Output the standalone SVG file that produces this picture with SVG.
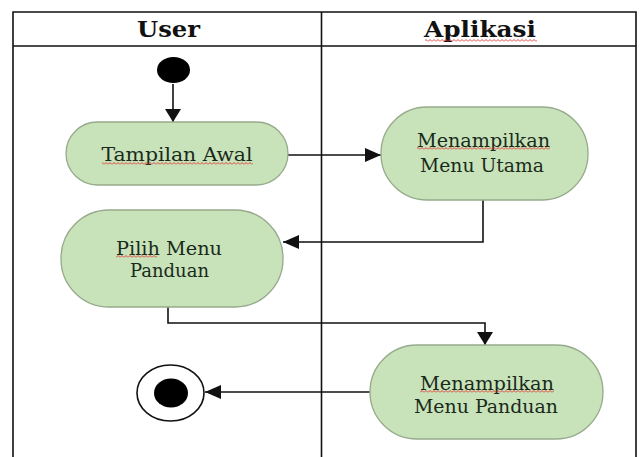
<svg xmlns="http://www.w3.org/2000/svg" width="640" height="457" viewBox="0 0 640 457">
<style>
.lane{stroke:#111;stroke-width:1.6;fill:none}
.node{fill:#c8e2ba;stroke:#96aa8c;stroke-width:1.3}
.hdr{font-family:"DejaVu Serif","Liberation Serif",serif;font-weight:bold;font-size:23px;fill:#111;text-anchor:middle}
.lbl{font-family:"DejaVu Serif","Liberation Serif",serif;font-size:19px;fill:#1a2a1a;text-anchor:middle}
.conn{stroke:#111;stroke-width:1.6;fill:none}
.sq{fill:url(#squig)}
</style>
<defs>
<marker id="arrowH" markerUnits="userSpaceOnUse" markerWidth="18" markerHeight="16" refX="16" refY="7" orient="auto">
<path d="M0,0 L16,7 L0,14 Z" fill="#111"/>
</marker>
<marker id="arrowV" markerUnits="userSpaceOnUse" markerWidth="15" markerHeight="18" refX="13" refY="8" orient="auto">
<path d="M0,0 L13,8 L0,16 Z" fill="#111"/>
</marker>
<pattern id="squig" patternUnits="userSpaceOnUse" width="4" height="3">
<polyline points="0,2.5 2,0.5 4,2.5" fill="none" stroke="#e0302a" stroke-width="0.9"/>
</pattern>
</defs>
<rect width="640" height="457" fill="#fff"/>
<g id="lanes">
<path class="lane" d="M13,457 V12 H636 V457"/>
<path class="lane" d="M13,46 H636"/>
<path class="lane" d="M321.5,12 V457"/>
<text class="hdr" x="168.5" y="37" textLength="63" lengthAdjust="spacingAndGlyphs">User</text>
<text class="hdr" x="480" y="37" textLength="112" lengthAdjust="spacingAndGlyphs">Aplikasi</text>
<rect class="sq" x="425" y="39" width="112" height="3"/>
</g>
<g id="connectors">
<path class="conn" d="M173,84 V122" marker-end="url(#arrowV)"/>
<path class="conn" d="M288,155 H381" marker-end="url(#arrowH)"/>
<path class="conn" d="M483,200 V242 H283" marker-end="url(#arrowH)"/>
<path class="conn" d="M168,307 V323 H485 V345" marker-end="url(#arrowV)"/>
<path class="conn" d="M370,392 H205" marker-end="url(#arrowH)"/>
</g>
<g id="start">
<ellipse cx="173.5" cy="70" rx="16.5" ry="13" fill="#000"/>
</g>
<g id="tampilan-awal">
<rect class="node" x="66" y="122" width="222" height="63" rx="31.5" ry="31.5"/>
<text class="lbl" x="177" y="161" textLength="151" lengthAdjust="spacingAndGlyphs">Tampilan Awal</text>
<rect class="sq" x="102" y="162" width="151" height="3"/>
</g>
<g id="menu-utama">
<rect class="node" x="381" y="107" width="207" height="93" rx="46" ry="46"/>
<text class="lbl" x="483.5" y="147" textLength="133" lengthAdjust="spacingAndGlyphs">Menampilkan</text>
<text class="lbl" x="482" y="172" textLength="124" lengthAdjust="spacingAndGlyphs">Menu Utama</text>
<rect class="sq" x="417" y="147" width="133" height="3"/>
</g>
<g id="pilih-menu">
<rect class="node" x="61" y="210" width="222" height="97" rx="48" ry="48"/>
<text class="lbl" x="169" y="255" textLength="106" lengthAdjust="spacingAndGlyphs">Pilih Menu</text>
<text class="lbl" x="169.5" y="277" textLength="79" lengthAdjust="spacingAndGlyphs">Panduan</text>
<rect class="sq" x="116" y="255" width="41" height="3"/>
</g>
<g id="menu-panduan">
<rect class="node" x="370" y="345" width="233" height="94" rx="47" ry="47"/>
<text class="lbl" x="487" y="390" textLength="134" lengthAdjust="spacingAndGlyphs">Menampilkan</text>
<text class="lbl" x="486" y="413" textLength="144" lengthAdjust="spacingAndGlyphs">Menu Panduan</text>
<rect class="sq" x="420" y="390" width="134" height="3"/>
</g>
<g id="end">
<ellipse cx="170.5" cy="393" rx="33.5" ry="28" fill="#fff" stroke="#111" stroke-width="1.6"/>
<ellipse cx="171" cy="393" rx="17" ry="14.5" fill="#000"/>
</g>
</svg>
